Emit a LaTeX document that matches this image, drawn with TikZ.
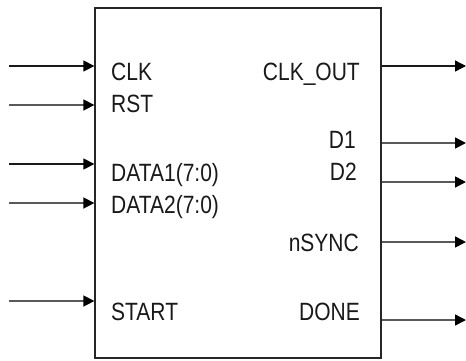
\documentclass[tikz,border=0pt]{standalone}
\usepackage{fontspec}
\setmainfont{Liberation Sans}[FakeStretch=0.84]
\usetikzlibrary{positioning,calc,arrows.meta}

\begin{document}
\begin{tikzpicture}[
    x=1pt, y=-1pt,
    blkbox/.style={draw=black!85, line width=1.3pt, minimum width=286pt, minimum height=350pt, inner sep=0pt},
    sig/.style={-{Triangle[length=11pt, width=11pt, black]}, line width=1.4pt, black!90},
    sigl/.style={-{Triangle[length=11pt, width=11pt, black]}, line width=1.6pt, black!65},
    pin/.style={font=\fontsize{25}{28}\selectfont, inner sep=0pt, text=black!90},
]
\useasboundingbox (0,0) rectangle (466,360);
\node[blkbox] (blk) at (238,183) {};
% inputs
\coordinate (iCLK) at (9,66);
\coordinate (iRST) at (9,105);
\coordinate (iDATA1) at (9,164);
\coordinate (iDATA2) at (9,203);
\coordinate (iSTART) at (9,301);
\draw[sig] (iCLK) -- (iCLK -| blk.west);
\draw[sigl] (iRST) -- (iRST -| blk.west);
\draw[sig] (iDATA1) -- (iDATA1 -| blk.west);
\draw[sigl] (iDATA2) -- (iDATA2 -| blk.west);
\draw[sigl] (iSTART) -- (iSTART -| blk.west);
\node[pin, anchor=base west] (lCLK) at (111,80) {CLK};
\node[pin, anchor=base west] (lRST) at (111,112) {RST};
\node[pin, anchor=base west] (lDATA1) at (111,181) {DATA1(7:0)};
\node[pin, anchor=base west] (lDATA2) at (111,213) {DATA2(7:0)};
\node[pin, anchor=base west] (lSTART) at (111,320) {START};
% outputs
\coordinate (oCLKOUT) at (466,66);
\coordinate (oD1) at (466,143);
\coordinate (oD2) at (466,182);
\coordinate (onSYNC) at (466,242);
\coordinate (oDONE) at (466,320);
\draw[sig] (oCLKOUT -| blk.east) -- (oCLKOUT);
\draw[sigl] (oD1 -| blk.east) -- (oD1);
\draw[sigl] (oD2 -| blk.east) -- (oD2);
\draw[sigl] (onSYNC -| blk.east) -- (onSYNC);
\draw[sigl] (oDONE -| blk.east) -- (oDONE);
\node[pin, anchor=base east] (lCLKOUT) at (360,80) {CLK\_OUT};
\node[pin, anchor=base east] (lD1) at (356,148) {D1};
\node[pin, anchor=base east] (lD2) at (357,180) {D2};
\node[pin, anchor=base east] (lnSYNC) at (359,251) {nSYNC};
\node[pin, anchor=base east] (lDONE) at (360,320) {DONE};
\end{tikzpicture}
\end{document}
